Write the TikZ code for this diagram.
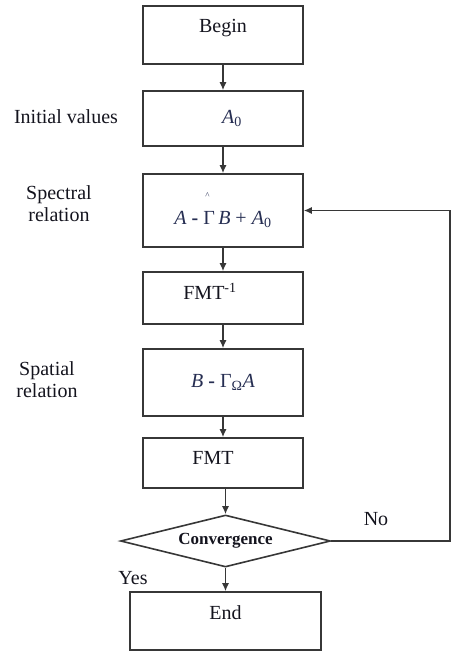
\documentclass[tikz,border=0pt]{standalone}
\usepackage{fontspec}
\setmainfont{Liberation Serif}
\usetikzlibrary{arrows.meta, shapes.geometric}
\definecolor{framegray}{RGB}{55, 55, 55}
\definecolor{textblack}{RGB}{20, 20, 30}
\definecolor{formulanavy}{RGB}{38, 46, 82}

\begin{document}
\begin{tikzpicture}[
        x=1pt, y=-1pt,
        font=\fontsize{20}{22}\selectfont,
        stepbox/.style={rectangle, draw=framegray, line width=1.6pt, minimum width=160pt, text=textblack},
        decision/.style={diamond, draw=framegray, line width=1.6pt, aspect=4, inner sep=0pt, minimum width=210pt, minimum height=52pt, text=textblack},
        sidelabel/.style={align=center, text=textblack},
        formula/.style={text=formulanavy},
        flow/.style={-{Latex[length=8pt, width=7pt]}, line width=1.4pt, draw=framegray}
    ]
    \useasboundingbox (0,0) rectangle (452,651);

    % Steps
    \node[stepbox, minimum height=58pt, text depth=18pt] (begin) at (223, 35) {Begin};
    \node[stepbox, minimum height=55pt, formula] (init) at (223, 118.5) {\kern18pt\textit{A}\textsubscript{0}};
    \node[stepbox, minimum height=73pt, formula] (spectral) at (223, 210.5)
        {\textit{A} \textbf{-} \rlap{\hspace{2pt}\raisebox{26pt}{\fontsize{9}{9}\selectfont\textasciicircum}}Γ\,\textit{B} + \textit{A}\textsubscript{0}};
    \node[stepbox, minimum height=52pt, text depth=13pt] (fmtinv) at (223, 298) {FMT\textsuperscript{-1}\kern26pt};
    \node[stepbox, minimum height=67pt, formula] (spatial) at (223, 382.5) {\textit{B} \textbf{-} Γ\textsubscript{Ω}\textit{A}};
    \node[stepbox, minimum height=50pt, text depth=10pt] (fmt) at (223, 463) {FMT\kern20pt};
    \node[decision] (conv) at (225.5, 541) {\fontsize{17}{19}\selectfont\textbf{Convergence}};
    \node[stepbox, minimum width=191pt, minimum height=58pt, text depth=16pt] (finish) at (225.5, 621) {End};

    % Side labels
    \node[sidelabel] (initlabel) at (66, 117) {Initial values};
    \node[sidelabel] (spectrallabel) at (59, 204) {Spectral\\relation};
    \node[sidelabel] (spatiallabel) at (47, 380) {Spatial\\relation};
    \node[sidelabel] (nolabel) at (376, 519) {No};
    \node[sidelabel] (yeslabel) at (133, 578) {Yes};

    % Loop corners
    \coordinate (loopbottom) at (450, 541);
    \coordinate (looptop) at (450, 210.5);

    % Flows
    \draw[flow] (begin) -- (init);
    \draw[flow] (init) -- (spectral);
    \draw[flow] (spectral) -- (fmtinv);
    \draw[flow] (fmtinv) -- (spatial);
    \draw[flow] (spatial) -- (fmt);
    \draw[flow] (fmt.south -| conv.north) -- (conv.north);
    \draw[flow] (conv) -- (finish);
    \draw[flow] (conv.east) -- (loopbottom) -- (looptop) -- (spectral.east);

\end{tikzpicture}
\end{document}
